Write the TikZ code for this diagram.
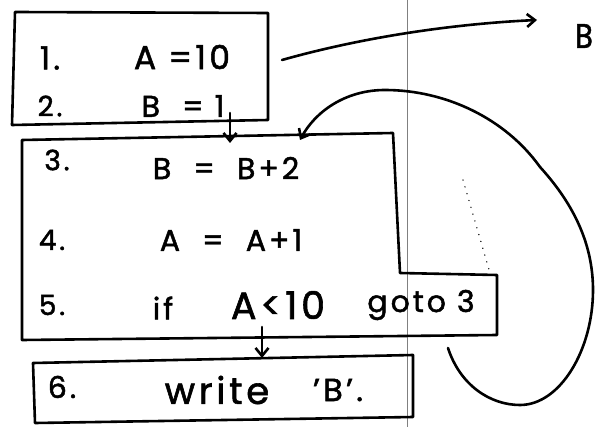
\documentclass[tikz,border=0pt]{standalone}
\usepackage{fontspec}
\setmainfont{Poppins}
\usetikzlibrary{arrows.meta}

\newcommand{\hand}[1]{\fontsize{#1}{#1}\selectfont\addfontfeatures{LetterSpace=10,FakeBold=1.6}}

\tikzset{
  pen/.style={line width=2.6pt, line join=round, line cap=round},
  txt/.style={inner sep=0pt, font=\hand{28}},
}

\begin{document}
\begin{tikzpicture}[x=1pt, y=-1pt, >={Straight Barb[length=8pt, width=13pt]}]
    \useasboundingbox (0,0) rectangle (596,427);

    % Fold line of the page
    \draw[gray, line width=0.5pt] (407,0) -- (407,427);

    % Box 1
    \draw[pen] (15,12) -- (268,13) -- (268,120) -- (12,125) -- cycle;
    \node[txt, font=\hand{32}] (n1) at (50,58) {1.};
    \node[txt, font=\hand{33}] (s1) at (182,57) {A =10};
    \node[txt] (n2) at (50,106) {2.};
    \node[txt, font=\hand{30}] (s2) at (183,106) {B \ = 1};

    % Box 2 (with the step for goto 3)
    \draw[pen] (22,140) -- (393,133) -- (400,273) -- (497,275) -- (497,335) -- (22,340) -- cycle;
    \node[txt] (n3) at (57,160) {3.};
    \node[txt, font=\hand{30}] (s3) at (226,168) {B \ = \ B+2};
    \node[txt] (n4) at (52,240) {4.};
    \node[txt, font=\hand{30}] (s4) at (231,240) {A \ = \ A+1};
    \node[txt] (n5) at (52,305) {5.};
    \node[txt, font=\hand{30}] (s5a) at (163,308) {if};
    \node[txt, font=\hand{38}] (s5b) at (278,305) {A<10};
    \node[txt, font=\hand{30}] (s5c) at (421,305) {goto 3};

    % Box 3
    \draw[pen] (33,363) -- (413,355) -- (413,417) -- (35,423) -- cycle;
    \node[txt, font=\hand{30}] (n6) at (62,387) {6.};
    \node[txt, font=\hand{37}] (s6a) at (217,390) {write};
    \node[txt, font=\hand{32}] (s6b) at (338,390) {'B'.};

    % Output
    \node[inner sep=0pt, anchor=west, xscale=0.85, font=\fontsize{34}{34}\selectfont\addfontfeatures{FakeBold=1.6}] (out) at (575,36) {B};

    % Connectors
    \coordinate (a1) at (282,60);
    \coordinate (a2) at (537,20);
    \draw[pen, ->] (a1) .. controls (360,38) and (450,24) .. (a2);

    \coordinate (b1) at (230,113);
    \coordinate (b2) at (230,143);
    \draw[pen, ->] (b1) -- (b2);

    \coordinate (c1) at (262,327);
    \coordinate (c2) at (262,358);
    \draw[pen, ->] (c1) -- (c2);

    % Loop back to 3
    \coordinate (l1) at (448,348);
    \coordinate (l2) at (300,140);
    \draw[pen, ->] (l1) .. controls (460,385) and (490,405) .. (520,405)
        .. controls (560,405) and (593,350) .. (593,290)
        .. controls (593,240) and (570,200) .. (540,167)
        .. controls (505,118) and (445,90) .. (385,90)
        .. controls (345,90) and (315,112) .. (l2);

    % Pencil dots inside the loop
    \draw[line width=1.4pt, line cap=round, dash pattern=on 0.1pt off 7pt] (463,180) -- (490,273);
\end{tikzpicture}
\end{document}
